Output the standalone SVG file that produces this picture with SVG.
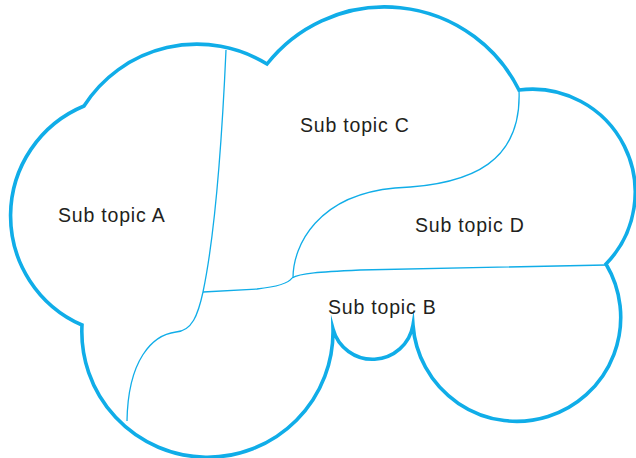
<svg xmlns="http://www.w3.org/2000/svg" width="636" height="458" viewBox="0 0 636 458">
<style>
.outline{fill:none;stroke:#10ADE8;stroke-width:3.6;stroke-linejoin:miter;stroke-miterlimit:10}
.div{fill:none;stroke:#10ADE8;stroke-width:1.3}
.lbl{font-family:"Liberation Sans",Arial,sans-serif;font-size:19.5px;letter-spacing:0.8px;fill:#231F20}
</style>
<rect width="636" height="458" fill="#ffffff"/>
<g id="connectors">
<path class="div" d="M226,50 C222,140 216,230 203,292 C198,315 192,331 176,332 C152,335 128,360 127,421"/>
<path class="div" d="M203,292 L257,289 C275,287 288,284 292,278"/>
<path class="div" d="M292,278 C300,273 320,272 360,270 L606,265"/>
<path class="div" d="M293,278 C293,245 318,195 395,188 C475,185 522,160 519,90"/>
</g>
<g id="cloud">
<path class="outline" d="M84,106 A134,134 0 0 1 267,64 A150,150 0 0 1 519,90 A103,103 0 0 1 606,264 A104,104 0 1 1 413,325 A41,41 0 0 1 333,329 A125.6,125.6 0 1 1 82,325 A119,119 0 0 1 84,106 Z"/>
</g>
<g id="subtopic-a"><text class="lbl" x="58" y="222">Sub topic A</text></g>
<g id="subtopic-c"><text class="lbl" x="300" y="132">Sub topic C</text></g>
<g id="subtopic-d"><text class="lbl" x="415" y="232">Sub topic D</text></g>
<g id="subtopic-b"><text class="lbl" x="328" y="314">Sub topic B</text></g>
</svg>
